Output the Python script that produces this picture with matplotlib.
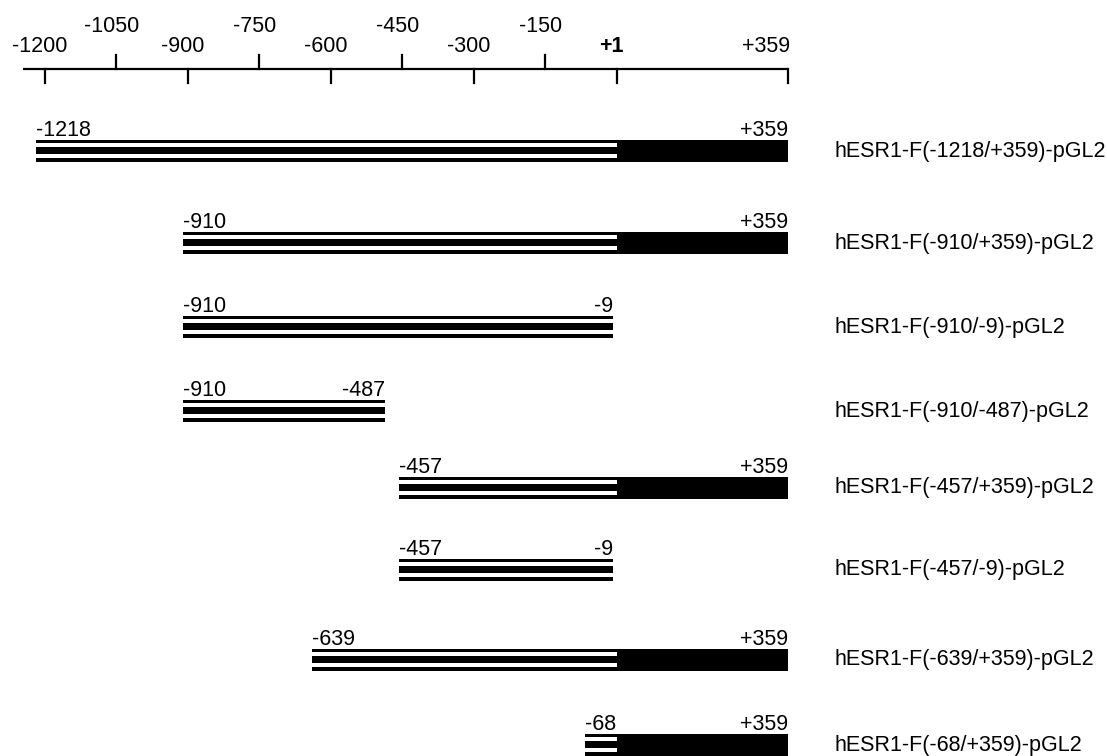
import matplotlib
matplotlib.use("Agg")
import matplotlib.pyplot as plt
from matplotlib.patches import Rectangle

plt.rcParams['font.family'] = ['Liberation Sans', 'DejaVu Sans']

# ---- data ----
tick_values = [-1200, -1050, -900, -750, -600, -450, -300, -150, 1, 359]
tick_labels = ["-1200", "-1050", "-900", "-750", "-600", "-450", "-300", "-150", "+1", "+359"]
tick_upper = [False, True, False, True, False, True, False, True, False, False]

construct_start = [-1218, -910, -910, -910, -457, -457, -639, -68]
construct_end = [359, 359, -9, -487, 359, -9, 359, 359]
start_labels = ["-1218", "-910", "-910", "-910", "-457", "-457", "-639", "-68"]
end_labels = ["+359", "+359", "-9", "-487", "+359", "-9", "+359", "+359"]
construct_names = [
    "hESR1-F(-1218/+359)-pGL2",
    "hESR1-F(-910/+359)-pGL2",
    "hESR1-F(-910/-9)-pGL2",
    "hESR1-F(-910/-487)-pGL2",
    "hESR1-F(-457/+359)-pGL2",
    "hESR1-F(-457/-9)-pGL2",
    "hESR1-F(-639/+359)-pGL2",
    "hESR1-F(-68/+359)-pGL2",
]
exon_start = 1          # transcription start (+1): solid black from here
axis_start = -1245

# ---- layout (pixel-like units) ----
W, H = 1107, 756
fig = plt.figure(figsize=(W / 100, H / 100), dpi=100)
ax = fig.add_axes([0, 0, 1, 1])
scale = 0.477
x0px = 617
ax.set_xlim(-x0px / scale, (W - x0px) / scale)
ax.set_ylim(H, 0)
ax.axis("off")

FS = 15.5
axis_y = 69
bar_h = 22
row_tops = [140, 232, 316, 400, 477, 559, 649, 734]
label_x_px = 834

# axis
ax.plot([axis_start, tick_values[-1]], [axis_y, axis_y], color="black", lw=1.6,
        solid_capstyle="butt")
for v, lab, up in zip(tick_values, tick_labels, tick_upper):
    if up:
        ax.plot([v, v], [axis_y, axis_y - 14], color="black", lw=1.6)
        ty = 32
    else:
        ax.plot([v, v], [axis_y, axis_y + 14], color="black", lw=1.6)
        ty = 52
    bold = lab == "+1"
    if lab == "+359":
        ax.annotate(lab, (v, ty), xytext=(2, 0), textcoords="offset pixels",
                    ha="right", va="baseline", fontsize=FS)
    else:
        ax.annotate(lab, (v, ty), xytext=(-5 if not bold else -6, 0),
                    textcoords="offset pixels", ha="center", va="baseline",
                    fontsize=FS, fontweight="bold" if bold else "normal")

# stripe geometry (white gaps: offset, height)
stripe_whites = [(3.3, 4.0), (14.3, 4.0)]

for i, (s, e, sl, el, name) in enumerate(zip(construct_start, construct_end,
                                             start_labels, end_labels,
                                             construct_names)):
    top = row_tops[i]
    promo_end = min(e, exon_start)
    # promoter (striped)
    ax.add_patch(Rectangle((s, top), promo_end - s, bar_h, facecolor="black",
                           edgecolor="none"))
    for off, hgt in stripe_whites:
        ax.add_patch(Rectangle((s, top + off), promo_end - s, hgt,
                               facecolor="white", edgecolor="none"))
    # exon (solid)
    if e > exon_start:
        ax.add_patch(Rectangle((exon_start, top), e - exon_start, bar_h,
                               facecolor="black", edgecolor="none"))
    # labels
    ax.text(s, top - 4, sl, ha="left", va="baseline", fontsize=FS)
    ax.text(e, top - 4, el, ha="right", va="baseline", fontsize=FS)
    ax.text((label_x_px - x0px) / scale, top + bar_h / 2, name, ha="left",
            va="center", fontsize=FS)

fig.savefig("out.png", dpi=100)
